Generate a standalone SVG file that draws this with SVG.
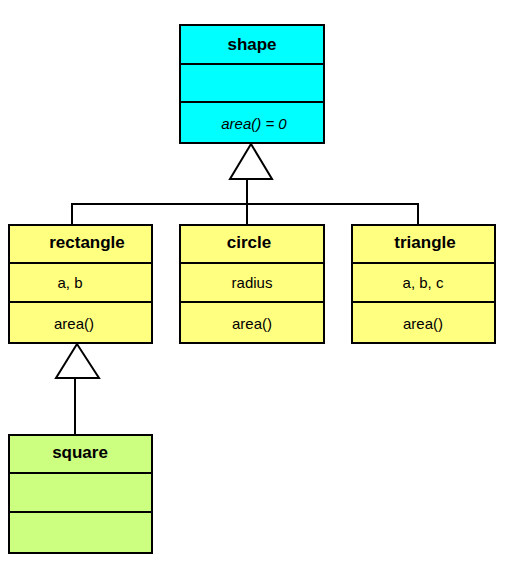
<svg xmlns="http://www.w3.org/2000/svg" width="506" height="574" viewBox="0 0 506 574">
<style>
.box{stroke:#000;stroke-width:2}
.div{stroke:#000;stroke-width:2}
.cyan{fill:#00FFFF}
.yellow{fill:#FFFF80}
.green{fill:#CCFF80}
text{font-family:"Liberation Sans",Arial,sans-serif;fill:#000;text-anchor:middle}
.name{font-size:17px;font-weight:bold}
.mem{font-size:15px}
.it{font-style:italic}
.conn{stroke:#000;stroke-width:2;fill:none}
.head{stroke:#000;stroke-width:2;fill:#fff}
</style>
<rect width="506" height="574" fill="#fff"/>
<g id="connectors">
<path class="conn" d="M247,179 V225 M72,225 V204 H418 V225"/>
<polygon class="head" points="251,144 230,179 272,179"/>
<path class="conn" d="M75,378 V435"/>
<polygon class="head" points="77,344 56,378 99,378"/>
</g>
<g id="shape">
<rect class="box cyan" x="180" y="25" width="144" height="118"/>
<line class="div" x1="180" y1="64" x2="324" y2="64"/>
<line class="div" x1="180" y1="102" x2="324" y2="102"/>
<text class="name" x="252" y="50">shape</text>
<text class="mem it" x="254" y="129">area() = 0</text>
</g>
<g id="rectangle">
<rect class="box yellow" x="9" y="225" width="143" height="118"/>
<line class="div" x1="9" y1="263" x2="152" y2="263"/>
<line class="div" x1="9" y1="302" x2="152" y2="302"/>
<text class="name" x="87" y="248">rectangle</text>
<text class="mem" x="70" y="288">a, b</text>
<text class="mem" x="74" y="329">area()</text>
</g>
<g id="circle">
<rect class="box yellow" x="180" y="225" width="144" height="118"/>
<line class="div" x1="180" y1="263" x2="324" y2="263"/>
<line class="div" x1="180" y1="302" x2="324" y2="302"/>
<text class="name" x="249" y="248">circle</text>
<text class="mem" x="252" y="288">radius</text>
<text class="mem" x="252" y="329">area()</text>
</g>
<g id="triangle">
<rect class="box yellow" x="352" y="225" width="143" height="118"/>
<line class="div" x1="352" y1="263" x2="495" y2="263"/>
<line class="div" x1="352" y1="302" x2="495" y2="302"/>
<text class="name" x="425" y="248">triangle</text>
<text class="mem" x="423" y="288">a, b, c</text>
<text class="mem" x="423" y="329">area()</text>
</g>
<g id="square">
<rect class="box green" x="9" y="435" width="143" height="118"/>
<line class="div" x1="9" y1="473" x2="152" y2="473"/>
<line class="div" x1="9" y1="512" x2="152" y2="512"/>
<text class="name" x="80" y="458">square</text>
</g>
</svg>
